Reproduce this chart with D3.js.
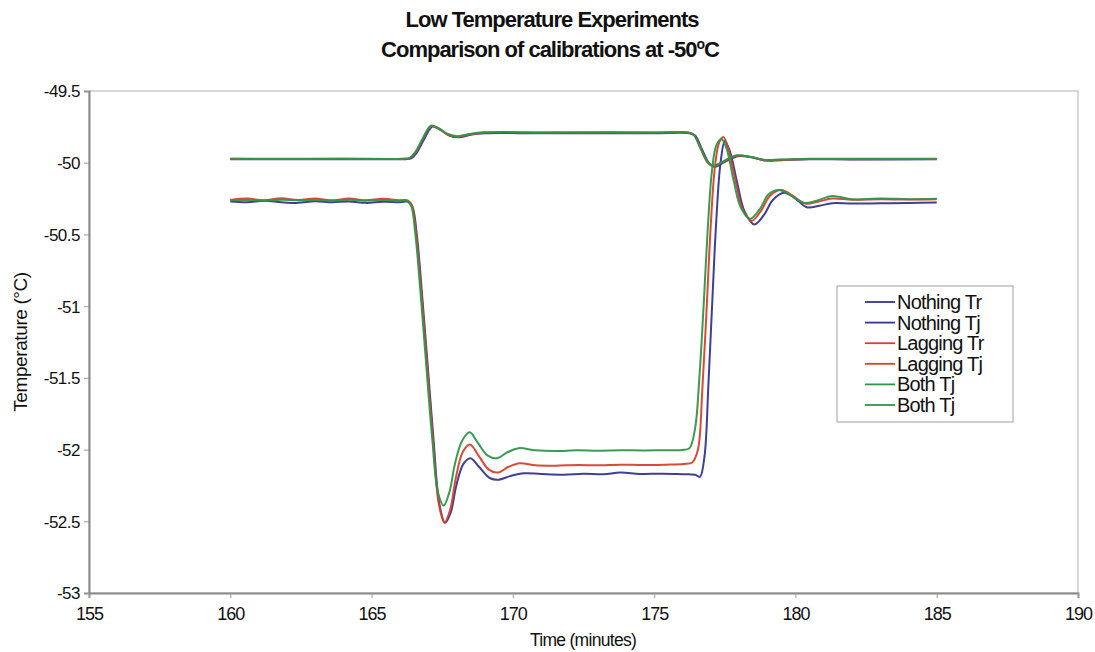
<!DOCTYPE html>
<html>
<head>
<meta charset="utf-8">
<script src="https://cdn.jsdelivr.net/npm/d3@7/dist/d3.min.js"></script>
<style>
  html, body { margin: 0; padding: 0; background: #fff; }
  svg { display: block; font-family: "Liberation Sans", Arial, sans-serif; }
</style>
</head>
<body>
<svg id="chart" width="1095" height="652"></svg>
<script>
// Axis ticks
const xTicks = [155, 160, 165, 170, 175, 180, 185, 190];
const yTicks = [-49.5, -50, -50.5, -51, -51.5, -52, -52.5, -53];

// Series names and colours (legend order)
const seriesNames = ["Nothing Tr", "Nothing Tj", "Lagging Tr", "Lagging Tj", "Both Tj", "Both Tj"];
const seriesColors = ["#35358f", "#35358f", "#d9402b", "#d9402b", "#2f9648", "#2f9648"];

// Reactor temperature traces [time (min), temperature (°C)]
const nothingTr = [
  [160, -49.975], [162, -49.976], [164, -49.975], [166.2, -49.975], [166.4, -49.97],
  [166.6, -49.93], [166.85, -49.84], [167.15, -49.748], [167.4, -49.765], [167.75, -49.81],
  [168.1, -49.823], [168.5, -49.805], [169, -49.795], [171, -49.795], [173, -49.794],
  [175, -49.795], [176.25, -49.795], [176.45, -49.81], [176.7, -49.91], [176.95, -50.005],
  [177.15, -50.03], [177.45, -50.0], [177.95, -49.955], [178.45, -49.962], [178.95, -49.985],
  [179.5, -49.982], [180.5, -49.976], [182, -49.977], [185, -49.976]
];
const laggingTr = [
  [160, -49.973], [162, -49.974], [164, -49.973], [166.15, -49.973], [166.35, -49.968],
  [166.55, -49.93], [166.8, -49.84], [167.1, -49.745], [167.35, -49.76], [167.7, -49.805],
  [168.05, -49.82], [168.45, -49.803], [169, -49.79], [171, -49.79], [173, -49.789],
  [175, -49.79], [176.2, -49.79], [176.4, -49.805], [176.65, -49.905], [176.9, -50.0],
  [177.1, -50.025], [177.4, -49.998], [177.9, -49.952], [178.4, -49.96], [178.9, -49.982],
  [179.5, -49.98], [180.5, -49.974], [182, -49.975], [185, -49.974]
];
const bothTr = [
  [160, -49.972], [162, -49.973], [164, -49.972], [166.15, -49.972], [166.35, -49.966],
  [166.55, -49.925], [166.8, -49.835], [167.1, -49.742], [167.35, -49.758], [167.7, -49.80],
  [168.05, -49.815], [168.45, -49.8], [169, -49.788], [171, -49.789], [173, -49.788],
  [175, -49.789], [176.2, -49.789], [176.4, -49.805], [176.65, -49.9], [176.9, -49.995],
  [177.1, -50.02], [177.4, -49.995], [177.9, -49.95], [178.4, -49.958], [178.9, -49.98],
  [179.5, -49.978], [180.5, -49.972], [182, -49.973], [185, -49.972]
];

// Jacket temperature traces [time (min), temperature (°C)]
const nothingTj = [
  [160, -50.27], [160.6, -50.275], [161.2, -50.265], [161.8, -50.275], [162.4, -50.28],
  [163, -50.268], [163.6, -50.276], [164.2, -50.27], [164.8, -50.28], [165.4, -50.272],
  [166.0, -50.275], [166.3, -50.272], [166.45, -50.31], [166.6, -50.5], [166.8, -50.95],
  [167.0, -51.45], [167.2, -51.95], [167.4, -52.38], [167.6, -52.51], [167.8, -52.44],
  [168.0, -52.25], [168.25, -52.1], [168.5, -52.06], [168.8, -52.12], [169.2, -52.2],
  [169.5, -52.21], [169.9, -52.185], [170.4, -52.165], [171, -52.17], [171.8, -52.175],
  [172.5, -52.168], [173.2, -52.172], [173.8, -52.16], [174.5, -52.17], [175.3, -52.168],
  [176.0, -52.172], [176.45, -52.175], [176.62, -52.19], [176.78, -52.05], [176.92, -51.55],
  [177.05, -51.0], [177.2, -50.4], [177.35, -50.0], [177.5, -49.85], [177.68, -49.92],
  [177.95, -50.15], [178.2, -50.34], [178.55, -50.43], [178.9, -50.36], [179.2, -50.26],
  [179.6, -50.21], [180.0, -50.25], [180.4, -50.31], [180.85, -50.3], [181.3, -50.282],
  [182, -50.285], [183, -50.283], [184, -50.281], [185, -50.278]
];
const laggingTj = [
  [160, -50.26], [160.6, -50.25], [161.2, -50.262], [161.8, -50.248], [162.4, -50.26],
  [163, -50.25], [163.6, -50.262], [164.2, -50.25], [164.8, -50.262], [165.4, -50.252],
  [166.0, -50.262], [166.28, -50.262], [166.43, -50.3], [166.58, -50.5], [166.78, -50.95],
  [166.98, -51.45], [167.18, -51.95], [167.38, -52.38], [167.58, -52.51], [167.78, -52.42],
  [167.98, -52.2], [168.22, -52.02], [168.48, -51.965], [168.78, -52.04], [169.15, -52.14],
  [169.48, -52.16], [169.85, -52.12], [170.25, -52.095], [170.8, -52.11], [171.5, -52.112],
  [172.3, -52.108], [173.0, -52.11], [173.8, -52.105], [174.6, -52.108], [175.4, -52.105],
  [176.05, -52.1], [176.35, -52.09], [176.55, -52.0], [176.7, -51.6], [176.85, -51.05],
  [177.0, -50.45], [177.15, -50.03], [177.3, -49.86], [177.45, -49.82], [177.62, -49.9],
  [177.88, -50.13], [178.12, -50.32], [178.45, -50.405], [178.8, -50.33], [179.1, -50.23],
  [179.5, -50.19], [179.9, -50.23], [180.35, -50.285], [180.8, -50.272], [181.3, -50.25],
  [182, -50.258], [183, -50.255], [184, -50.257], [185, -50.255]
];
const bothTj = [
  [160, -50.262], [160.6, -50.26], [161.2, -50.264], [161.8, -50.258], [162.4, -50.262],
  [163, -50.26], [163.6, -50.265], [164.2, -50.258], [164.8, -50.264], [165.4, -50.26],
  [166.0, -50.265], [166.25, -50.265], [166.4, -50.3], [166.55, -50.5], [166.75, -50.95],
  [166.95, -51.45], [167.15, -51.93], [167.35, -52.3], [167.55, -52.39], [167.75, -52.3],
  [167.95, -52.1], [168.2, -51.94], [168.47, -51.88], [168.75, -51.95], [169.1, -52.04],
  [169.45, -52.06], [169.8, -52.02], [170.2, -51.99], [170.8, -52.005], [171.5, -52.01],
  [172.3, -52.005], [173.0, -52.008], [173.8, -52.004], [174.6, -52.006], [175.4, -52.004],
  [176.0, -52.003], [176.25, -51.99], [176.45, -51.85], [176.6, -51.5], [176.75, -51.0],
  [176.9, -50.45], [177.05, -50.05], [177.2, -49.88], [177.38, -49.835], [177.56, -49.9],
  [177.82, -50.13], [178.06, -50.31], [178.4, -50.39], [178.75, -50.32], [179.05, -50.22],
  [179.42, -50.19], [179.85, -50.23], [180.3, -50.28], [180.75, -50.265], [181.3, -50.232],
  [182, -50.255], [183, -50.25], [184, -50.254], [185, -50.252]
];

const seriesData = [nothingTr, nothingTj, laggingTr, laggingTj, bothTr, bothTj];

const svg = d3.select("#chart");
const margin = { left: 89, right: 1095 - 1078, top: 91, bottom: 652 - 593 };
const W = 1095, H = 652;

const x = d3.scaleLinear().domain([155, 190]).range([margin.left, W - margin.right]);
const y = d3.scaleLinear().domain([-53, -49.5]).range([H - margin.bottom, margin.top]);

// Plot frame: light top/right border
svg.append("rect")
  .attr("x", x(155)).attr("y", y(-49.5))
  .attr("width", x(190) - x(155)).attr("height", y(-53) - y(-49.5))
  .attr("fill", "#fff").attr("stroke", "#b4b4b4").attr("stroke-width", 1);

// Axes
const xAxis = d3.axisBottom(x).tickValues(xTicks).tickSize(5).tickPadding(9).tickFormat(d3.format("d"));
const yAxis = d3.axisLeft(y).tickValues(yTicks).tickSize(5).tickPadding(4).tickFormat(d => String(d));

const gx = svg.append("g").attr("transform", `translate(0,${y(-53)})`).call(xAxis);
const gy = svg.append("g").attr("transform", `translate(${x(155)},0)`).call(yAxis);

[gx, gy].forEach(g => {
  g.select(".domain").attr("stroke", "#8a8a8a").attr("stroke-width", 2);
  g.selectAll(".tick line").attr("stroke", "#9a9a9a").attr("stroke-width", 1);
  g.selectAll(".tick text").attr("fill", "#111")
    .style("font-family", '"Liberation Sans", Arial, sans-serif');
});
gx.selectAll(".tick text").style("font-size", "18px").style("letter-spacing", "-1px");
gy.selectAll(".tick text").style("font-size", "17px").style("letter-spacing", "-0.5px").attr("dy", "0.35em");

// Lines
const line = d3.line()
  .x(d => x(d[0]))
  .y(d => y(d[1]))
  .curve(d3.curveCatmullRom.alpha(0.5));

svg.append("g").selectAll("path")
  .data(seriesData)
  .join("path")
  .attr("d", line)
  .attr("fill", "none")
  .attr("stroke", (d, i) => seriesColors[i])
  .attr("stroke-width", 2)
  .attr("stroke-linejoin", "round")
  .attr("stroke-opacity", 0.95);

// Titles
const title = svg.append("g").attr("fill", "#111").style("font-weight", "bold").style("font-size", "22px");
title.append("text").attr("x", 552).attr("y", 27).attr("text-anchor", "middle")
  .style("letter-spacing", "-1px")
  .text("Low Temperature Experiments");
const t2 = title.append("text").attr("x", 550).attr("y", 57).attr("text-anchor", "middle")
  .style("letter-spacing", "-1px");
t2.append("tspan").text("Comparison of calibrations at -50");
t2.append("tspan").attr("dy", -8).style("font-size", "14px").text("o");
t2.append("tspan").attr("dy", 8).text("C");

// Axis titles
svg.append("text")
  .attr("x", 583).attr("y", 646).attr("text-anchor", "middle")
  .style("font-size", "17.5px").attr("fill", "#111")
  .style("letter-spacing", "-0.7px")
  .text("Time (minutes)");
svg.append("text")
  .attr("transform", `translate(27,${(y(-49.5) + y(-53)) / 2}) rotate(-90)`)
  .attr("text-anchor", "middle")
  .style("font-size", "19px").attr("fill", "#111")
  .style("letter-spacing", "-0.4px")
  .text("Temperature (°C)");

// Legend
const lg = svg.append("g");
lg.append("rect")
  .attr("x", 837).attr("y", 286).attr("width", 176).attr("height", 136)
  .attr("fill", "#fff").attr("stroke", "#a0a0a0").attr("stroke-width", 1);
const rows = lg.selectAll("g.row")
  .data(seriesNames)
  .join("g")
  .attr("class", "row")
  .attr("transform", (d, i) => `translate(0,${302 + i * 20.6})`);
rows.append("line")
  .attr("x1", 865).attr("x2", 895).attr("y1", 0).attr("y2", 0)
  .attr("stroke", (d, i) => seriesColors[i]).attr("stroke-width", 1.8);
rows.append("text")
  .attr("x", 897).attr("y", 0).attr("dy", "0.35em")
  .style("font-size", "20px").attr("fill", "#111")
  .style("letter-spacing", "-0.8px")
  .text(d => d);
</script>
</body>
</html>
